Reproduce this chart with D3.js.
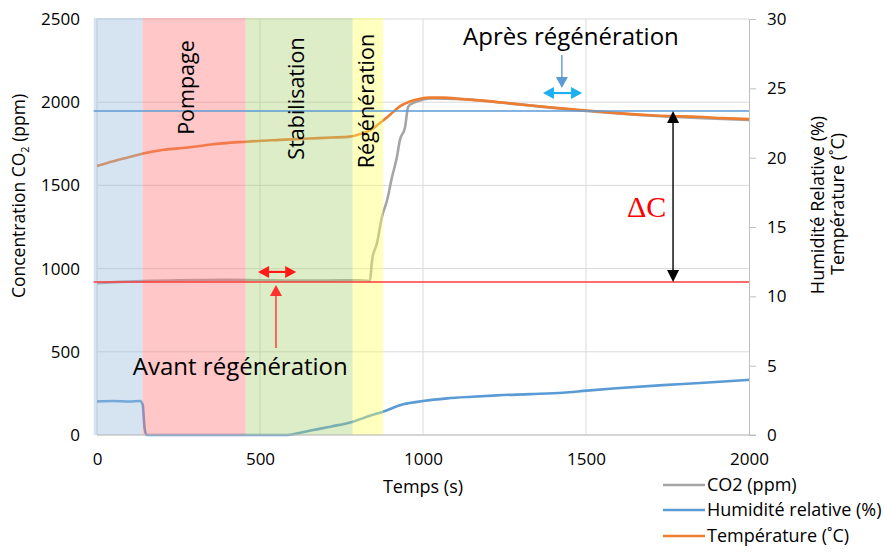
<!DOCTYPE html>
<html><head><meta charset="utf-8">
<script src="https://cdn.jsdelivr.net/npm/d3@7"></script>
<style>
body{margin:0;background:#fff}
svg{display:block}
text{font-family:"Open Sans",sans-serif;fill:#000}
</style>
</head><body>
<svg id="chart" width="885" height="553"></svg>
<script>
// ---------- data ----------
const co2Time   = [0,70,141,250,400,500,600,700,800,837,844,859,874,890,905,920,929,945,954,960,991,1021,1123,1276,1482,1687,1840,2000];
const co2Values = [913,920,925,930,932,930,928,928,930,925,1052,1154,1310,1412,1550,1670,1772,1850,1970,1985,2010,2022,2018,1990,1950,1920,1905,1893];

const humTime   = [0,50,100,132,140,146,152,583,620,663,720,785,837,877,939,1000,1074,1150,1227,1330,1429,1503,1583,1736,1850,1994,2000];
const humValues = [2.42,2.45,2.42,2.45,2.2,0.5,0,0,0.15,0.36,0.62,0.96,1.39,1.68,2.21,2.45,2.64,2.76,2.86,2.95,3.05,3.2,3.35,3.6,3.75,3.97,3.98];

const tempTime   = [0,50,100,141,200,285,316,350,457,561,650,720,776,807,847,868,899,929,960,991,1021,1060,1123,1200,1276,1380,1482,1580,1687,1760,1840,1920,2000];
const tempValues = [19.4,19.75,20.05,20.3,20.55,20.75,20.84,20.95,21.15,21.28,21.38,21.45,21.52,21.7,22.1,22.5,23.1,23.7,24.05,24.25,24.33,24.33,24.22,24.08,23.9,23.65,23.44,23.25,23.08,23.0,22.95,22.85,22.78];

const phaseNames  = ["", "Pompage", "Stabilisation", "Régénération"];
const phaseStart  = [-10, 140, 456, 784];
const phaseEnd    = [140, 456, 784, 878];
const phaseLabelT = [null, 273, 612, 827];
const phaseLabelC = [null, 2088, 2022, 2007];

const xTicks = [0,500,1000,1500,2000];
const yLeftTicks = [0,500,1000,1500,2000,2500];
const yRightTicks = [0,5,10,15,20,25,30];

const refBefore = 919;   // ppm, "Avant régénération"
const refAfter  = 1947;  // ppm, "Après régénération"

const seriesNames = ["CO2 (ppm)", "Humidité relative (%)", "Température (˚C)"];
const seriesColors = ["#a5a5a5", "#5b9bd5", "#ed7d31"];

// ---------- scales ----------
const svg = d3.select("#chart");
const W = 885, H = 553;
const m = {left:97, right:136, top:19, bottom:118};
const x  = d3.scaleLinear().domain([0,2000]).range([m.left, W-m.right]);
const yL = d3.scaleLinear().domain([0,2500]).range([H-m.bottom, m.top]);
const yR = d3.scaleLinear().domain([0,30]).range([H-m.bottom, m.top]);
const x0 = x(0), x1 = x(2000), yb = yL(0), yt = yL(2500);

// ---------- gridlines ----------
const grid = svg.append("g");
grid.selectAll("line.h").data(yLeftTicks).join("line")
  .attr("x1", x0).attr("x2", x1).attr("y1", d=>yL(d)).attr("y2", d=>yL(d))
  .attr("stroke", "#d9d9d9").attr("stroke-width", 1);
grid.selectAll("line.v").data(xTicks.slice(1,4)).join("line")
  .attr("x1", d=>x(d)).attr("x2", d=>x(d)).attr("y1", yt).attr("y2", yb)
  .attr("stroke", "#d9d9d9").attr("stroke-width", 1);
grid.append("line").attr("x1", x0).attr("x2", x0).attr("y1", yt).attr("y2", yb).attr("stroke", "#d9d9d9");

// ---------- series ----------
const lineGen = (ys) => d3.line().x(d=>x(d[0])).y(d=>ys(d[1])).curve(d3.curveMonotoneX);
const series = [
  {pts: d3.zip(co2Time, co2Values), ys: yL},
  {pts: d3.zip(humTime, humValues), ys: yR},
  {pts: d3.zip(tempTime, tempValues), ys: yR}
];
series.forEach((s,i)=>{
  svg.append("path").attr("d", lineGen(s.ys)(s.pts))
    .attr("fill","none").attr("stroke", seriesColors[i]).attr("stroke-width", 2.6)
    .attr("stroke-linejoin","round");
});

// ---------- phase bands (semi-transparent overlay) ----------
const bandColors = ["#98bbde", "#ff7373", "#aad275", "#ffff5c"];
svg.append("g").selectAll("rect").data(phaseStart).join("rect")
  .attr("x", (d)=>x(d)).attr("width", (d,i)=>x(phaseEnd[i])-x(d))
  .attr("y", yt-1).attr("height", yb-yt+1)
  .attr("fill", (d,i)=>bandColors[i]).attr("fill-opacity", 0.4);

// ---------- axes ----------
const fmt = d3.format("d");
svg.append("line").attr("x1", x0).attr("x2", x1+7).attr("y1", yb).attr("y2", yb)
  .attr("stroke", "#bfbfbf");
const rAxis = svg.append("g").attr("transform", `translate(${x1},0)`)
  .call(d3.axisRight(yR).tickValues(yRightTicks).tickFormat(fmt).tickSize(7).tickPadding(11));
rAxis.select(".domain").attr("stroke","#bfbfbf");
rAxis.selectAll(".tick line").attr("stroke","#bfbfbf");
rAxis.selectAll("text").style("font-size","17px").style("font-family","Open Sans").attr("fill","#000");

const lAxis = svg.append("g").attr("transform", `translate(${x0},0)`)
  .call(d3.axisLeft(yL).tickValues(yLeftTicks).tickFormat(fmt).tickSize(0).tickPadding(17));
lAxis.select(".domain").remove();
lAxis.selectAll("text").style("font-size","17px").style("font-family","Open Sans").attr("fill","#000");

const bAxis = svg.append("g").attr("transform", `translate(0,${yb})`)
  .call(d3.axisBottom(x).tickValues(xTicks).tickFormat(fmt).tickSize(0).tickPadding(18));
bAxis.select(".domain").remove();
bAxis.selectAll("text").style("font-size","17px").style("font-family","Open Sans").attr("fill","#000");

svg.append("text").attr("x", (x0+x1)/2).attr("y", 493).attr("text-anchor","middle")
  .style("font-size","18px").text("Temps (s)");

const lt = svg.append("text").attr("transform", `translate(25,196) rotate(-90)`)
  .attr("text-anchor","middle").style("font-size","17.5px");
lt.append("tspan").text("Concentration CO");
lt.append("tspan").attr("dy", 4).style("font-size","11px").text("2");
lt.append("tspan").attr("dy", -4).text(" (ppm)");

svg.append("text").attr("transform", `translate(824,205) rotate(-90)`)
  .attr("text-anchor","middle").style("font-size","18px").text("Humidité Relative (%)");
svg.append("text").attr("transform", `translate(844,204) rotate(-90)`)
  .attr("text-anchor","middle").style("font-size","18px").text("Température (˚C)");

// ---------- reference lines ----------
svg.append("line").attr("x1", x(-10)).attr("x2", x1).attr("y1", yL(refAfter)).attr("y2", yL(refAfter))
  .attr("stroke", "#5b9bd5").attr("stroke-width", 1.3);
svg.append("line").attr("x1", x(-10)).attr("x2", x1).attr("y1", yL(refBefore)).attr("y2", yL(refBefore))
  .attr("stroke", "#ff3b3b").attr("stroke-width", 1.5);

// ---------- phase labels ----------
phaseNames.forEach((n,i)=>{
  if(!n) return;
  svg.append("text").attr("transform", `translate(${x(phaseLabelT[i])},${yL(phaseLabelC[i])}) rotate(-90)`)
    .attr("text-anchor","middle").attr("dy","0.35em").style("font-size","21.5px").text(n);
});

// ---------- arrows ----------
function head(tx, ty, dx, dy, len, hw, color){
  const bx = tx - dx*len, by = ty - dy*len;
  const px = -dy*hw, py = dx*hw;
  svg.append("path").attr("d", `M${tx},${ty}L${bx+px},${by+py}L${bx-px},${by-py}Z`).attr("fill", color);
}
function arrow(xa, ya, xb, yb2, color, w, len, hw, both){
  const L = Math.hypot(xb-xa, yb2-ya), dx=(xb-xa)/L, dy=(yb2-ya)/L;
  svg.append("line").attr("x1", both? xa+dx*len*0.8 : xa).attr("y1", both? ya+dy*len*0.8 : ya)
    .attr("x2", xb-dx*len*0.8).attr("y2", yb2-dy*len*0.8).attr("stroke", color).attr("stroke-width", w);
  head(xb, yb2, dx, dy, len, hw, color);
  if(both) head(xa, ya, -dx, -dy, len, hw, color);
}
// Avant régénération
arrow(x(494), yL(980), x(611), yL(980), "#ff1a1a", 2.2, 11, 6, true);
arrow(x(549), yL(523), x(549), yL(901), "#ff3030", 1.4, 11, 6, false);
// Après régénération
arrow(x(1368), yL(2055), x(1488), yL(2055), "#1cb0f0", 2.2, 11, 6, true);
arrow(x(1426), yL(2284), x(1426), yL(2085), "#5b9bd5", 1.4, 11, 6, false);
// Delta C
arrow(x(1767), yL(refAfter), x(1767), yL(refBefore), "#000", 1.4, 12, 6, true);

// ---------- annotation texts ----------
svg.append("text").attr("x", x(110)).attr("y", yL(360)).style("font-size","24px").text("Avant régénération");
svg.append("text").attr("x", x(1123)).attr("y", yL(2344)).style("font-size","24px").text("Après régénération");
svg.append("text").attr("x", x(1626)).attr("y", yL(1310)).style("font-size","30px")
  .style("font-family","'Liberation Serif','DejaVu Serif',serif").style("fill","#ff0000").text("ΔC");

// ---------- legend ----------
const lg = svg.append("g");
const legY = [485, 510, 536];
seriesNames.forEach((n,i)=>{
  lg.append("line").attr("x1", 663).attr("x2", 705).attr("y1", legY[i]).attr("y2", legY[i])
    .attr("stroke", seriesColors[i]).attr("stroke-width", 2.6);
  lg.append("text").attr("x", 707).attr("y", legY[i]).attr("dy","0.35em").style("font-size","18px").text(n);
});
</script>
</body></html>
